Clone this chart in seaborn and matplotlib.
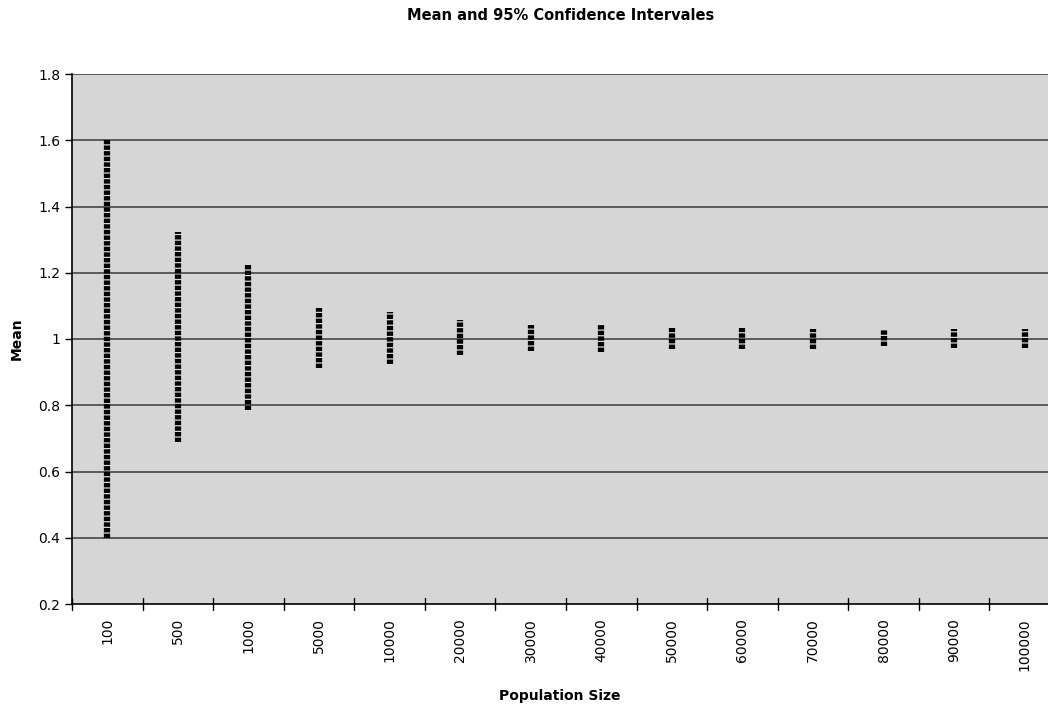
import pandas as pd
import matplotlib
matplotlib.use("Agg")
import matplotlib.pyplot as plt
import seaborn as sns

# Values
sizes = ['100', '500', '1000', '5000', '10000', '20000', '30000', '40000',
         '50000', '60000', '70000', '80000', '90000', '100000']
lower = [0.40, 0.69, 0.785, 0.912, 0.924, 0.951, 0.963, 0.960,
         0.970, 0.970, 0.970, 0.978, 0.972, 0.974]
upper = [1.60, 1.322, 1.222, 1.093, 1.081, 1.057, 1.042, 1.045,
         1.033, 1.033, 1.030, 1.027, 1.030, 1.030]

# Long form: one row per interval end
df = pd.DataFrame({
    'size': sizes + sizes,
    'mean': lower + upper,
    'end': ['low'] * len(sizes) + ['high'] * len(sizes),
})

sns.set_style("white")
plt.rcParams['font.family'] = ['DejaVu Sans']
plt.rcParams['text.color'] = 'black'
plt.rcParams['axes.labelcolor'] = 'black'
plt.rcParams['xtick.color'] = 'black'
plt.rcParams['ytick.color'] = 'black'

fig = plt.figure(figsize=(10.48, 7.05), dpi=100)
ax = fig.add_axes([72 / 1048, 101 / 705, 1 - 72 / 1048, 530 / 705])
ax.set_facecolor('#d6d6d6')

# grid lines behind the bars
for yv in [0.4, 0.6, 0.8, 1.0, 1.2, 1.4, 1.6, 1.8]:
    ax.axhline(yv, color='#3a3a3a', linewidth=1.1, zorder=1)

sns.lineplot(data=df, x='size', y='mean', units='size', estimator=None,
             color='black', linewidth=4.5, linestyle=(0, (0.7, 0.2)),
             ax=ax, zorder=3, legend=False)

ax.set_xlim(-0.5, 13.33)
ax.set_ylim(0.2, 1.8)
ax.set_yticks([0.2, 0.4, 0.6, 0.8, 1.0, 1.2, 1.4, 1.6, 1.8])
ax.set_yticklabels(['0.2', '0.4', '0.6', '0.8', '1', '1.2', '1.4', '1.6', '1.8'],
                   fontsize=10)
ax.set_xticks(range(len(sizes)))
ax.set_xticklabels(sizes, rotation=90, fontsize=10)
ax.tick_params(axis='x', length=0, pad=10)
ax.tick_params(axis='y', length=5, direction='out', left=True, width=1)
# tick marks between categories
for i in range(len(sizes)):
    ax.plot([i - 0.5, i - 0.5], [0.182, 0.218], color='black', linewidth=1,
            clip_on=False, zorder=4)

for side in ['top', 'right']:
    ax.spines[side].set_visible(False)
ax.spines['left'].set_color('black')
ax.spines['bottom'].set_color('black')
ax.spines['left'].set_linewidth(1.2)
ax.spines['bottom'].set_linewidth(1.2)

ax.set_xlabel('Population Size', fontsize=10, fontweight='bold', labelpad=13)
ax.set_ylabel('Mean', fontsize=10, fontweight='bold', labelpad=10)
fig.text(0.535, 0.978, 'Mean and 95% Confidence Intervales', ha='center',
         va='center', fontsize=10.5, fontweight='bold')

fig.savefig('out.png', dpi=100)
